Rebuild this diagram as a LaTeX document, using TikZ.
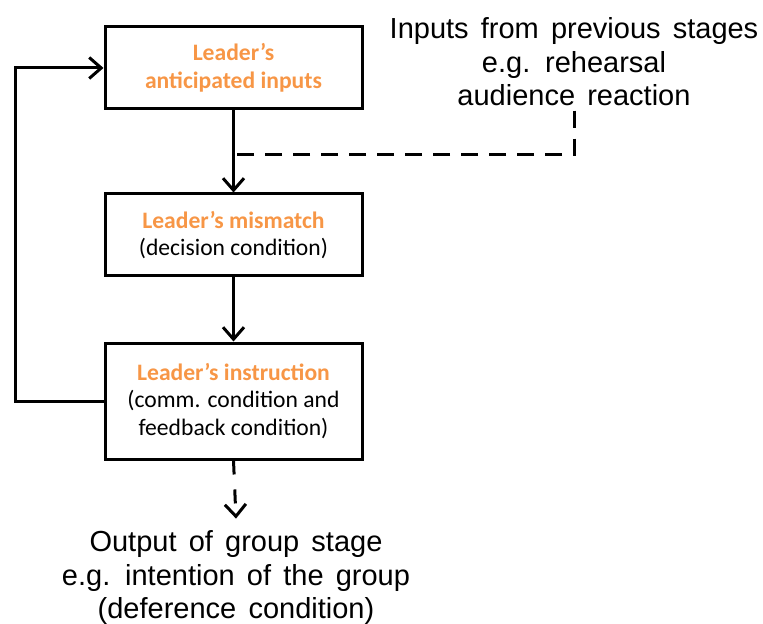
\documentclass[tikz,border=0pt]{standalone}
\usepackage{fontspec}
\setmainfont{Liberation Sans}
\newfontfamily\boxfont{Carlito}
\usepackage{tikz}
\usepackage{xcolor}
\usetikzlibrary{arrows.meta,positioning,calc}
\definecolor{LeaderOrange}{HTML}{F79646}
\newcommand\widespace{\spaceskip=0.42em\relax}
\tikzset{
  stagebox/.style={draw=black, line width=1.5pt, align=center, minimum width=128.5pt, minimum height=41pt, inner sep=2pt, font=\boxfont\fontsize{11.8}{13.8}\selectfont},
  arrow/.style={-{Straight Barb[length=6pt,width=10.5pt]}, line width=1.5pt},
  feed/.style={line width=1.5pt, dash pattern=on 8.5pt off 5.5pt},
  outfeed/.style={-{Straight Barb[length=6pt,width=10.5pt]}, line width=1.5pt, dash pattern=on 7pt off 7.5pt},
  plain/.style={align=center, font={\fontsize{14.5}{16.75}\selectfont\widespace}, inner sep=0pt}
}

\begin{document}
\begin{tikzpicture}[x=0.5pt, y=-0.5pt, node distance=41pt]
    \useasboundingbox (0,0) rectangle (763,624);
    \node[stagebox] (ant) at (233.5,68) {\textcolor{LeaderOrange}{\textbf{Leader’s}}\\\textcolor{LeaderOrange}{\textbf{anticipated inputs}}};
    \node[stagebox, below=of ant] (mis) {\textcolor{LeaderOrange}{\textbf{Leader’s mismatch}}\\(decision condition)};
    \node[stagebox, below=32pt of mis, minimum height=58pt] (ins) {\textcolor{LeaderOrange}{\textbf{Leader’s instruction}}\\(comm. condition and\\feedback condition)};
    \node[plain] (inp) at (574,62) {Inputs from previous stages\\e.g. rehearsal\\audience reaction};
    \node[plain] (out) at (236,578) {Output of group stage\\e.g. intention of the group\\(deference condition)};
    \coordinate (join) at ($(ant.south)!0.54!(mis.north)$);

    \draw[arrow] (ant) -- (mis);
    \draw[arrow] (mis) -- (ins);
    \draw[arrow] (ins.west) -- ++(-88,0) |- (ant.west);
    \draw[feed] ([yshift=-2pt]inp.south) |- (join);
    \draw[outfeed] (ins.south) -- ([yshift=6pt]out.north);
\end{tikzpicture}
\end{document}
